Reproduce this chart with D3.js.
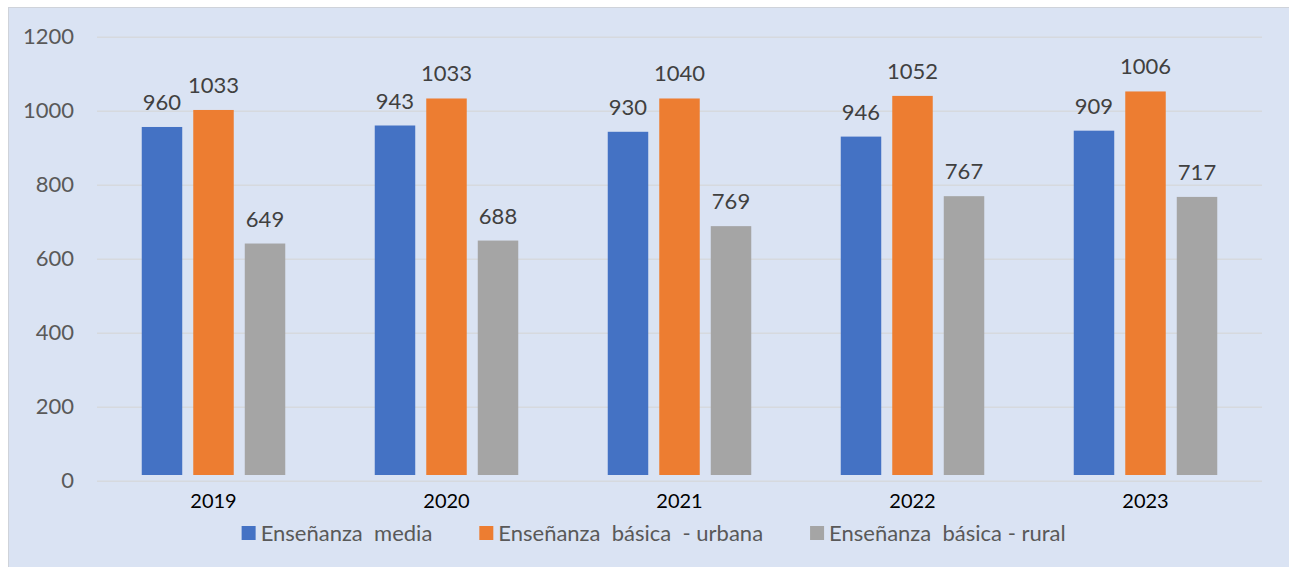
<!DOCTYPE html>
<html>
<head>
<meta charset="utf-8">
<script src="https://cdn.jsdelivr.net/npm/d3@7"></script>
<style>
  html, body { margin: 0; padding: 0; background: #fff; }
  svg { display: block; font-family: Lato, "Open Sans", sans-serif; }
</style>
</head>
<body>
<div id="graph"></div>
<script>
// categories and series
var years = ["2019", "2020", "2021", "2022", "2023"];
var seriesNames = ["Enseñanza  media", "Enseñanza  básica  - urbana", "Enseñanza  básica - rural"];
var seriesColors = ["#4472C4", "#ED7D31", "#A5A5A5"];

// bar heights as drawn
var media = [956, 960, 943, 930, 946];
var urbana = [1002, 1033, 1033, 1040, 1052];
var rural = [641, 649, 688, 769, 767];

// data labels as printed above the bars
var mediaLabels = ["960", "943", "930", "946", "909"];
var urbanaLabels = ["1033", "1033", "1040", "1052", "1006"];
var ruralLabels = ["649", "688", "769", "767", "717"];

var yTicks = [0, 200, 400, 600, 800, 1000, 1200];

var W = 1289, H = 567;
var plot = {left: 97, right: 1262, top: 36.7, bottom: 480.7};

var svg = d3.select("#graph").append("svg")
    .attr("width", W)
    .attr("height", H);

// chart area background
svg.append("rect")
    .attr("x", 8.5).attr("y", 7.5)
    .attr("width", W).attr("height", H)
    .attr("fill", "#DAE3F3")
    .attr("stroke", "#cfd3da");

var x0 = d3.scaleBand().domain(years).range([plot.left, plot.right]).padding(0);
var x1 = d3.scaleBand().domain(d3.range(3)).range([-71.75, 71.75]).paddingInner(0.214).paddingOuter(0);
var y = d3.scaleLinear().domain([0, 1200]).range([plot.bottom, plot.top]);

// y axis with gridlines
var yAxis = svg.append("g")
    .attr("transform", "translate(" + plot.left + ",0)")
    .call(d3.axisLeft(y).tickValues(yTicks).tickFormat(d3.format("d"))
      .tickSize(-(plot.right - plot.left)).tickPadding(23));
yAxis.select(".domain").remove();
yAxis.selectAll("line").attr("stroke", "#d6d9de").attr("stroke-width", 1.5);
yAxis.selectAll("text")
    .attr("fill", "#595959")
    .style("font-size", "22px")
    .style("font-family", "Lato, sans-serif");

// x axis labels
var xAxis = svg.append("g")
    .attr("transform", "translate(0," + plot.bottom + ")")
    .call(d3.axisBottom(x0).tickSize(0).tickPadding(13));
xAxis.select(".domain").remove();
xAxis.selectAll("text")
    .attr("fill", "#000")
    .style("font-size", "20px")
    .style("font-family", "Lato, sans-serif");

var series = [media, urbana, rural];
var labels = [mediaLabels, urbanaLabels, ruralLabels];
var barGap = 5.7; // bars stop short of the zero line in the original

series.forEach(function(vals, s) {
  var g = svg.append("g");
  g.selectAll("rect")
    .data(vals)
    .enter().append("rect")
      .attr("x", function(d, i) { return x0(years[i]) + x0.bandwidth() / 2 + x1(s); })
      .attr("width", x1.bandwidth())
      .attr("y", function(d) { return y(d); })
      .attr("height", function(d) { return y(0) - barGap - y(d); })
      .attr("fill", seriesColors[s]);

  g.selectAll("text")
    .data(vals)
    .enter().append("text")
      .attr("x", function(d, i) { return x0(years[i]) + x0.bandwidth() / 2 + x1(s) + x1.bandwidth() / 2; })
      .attr("y", function(d) { return y(d) - 17; })
      .attr("text-anchor", "middle")
      .attr("fill", "#404040")
      .style("font-size", "22px")
      .text(function(d, i) { return labels[s][i]; });
});

// legend
var legend = svg.append("g").attr("transform", "translate(0,541)");
var items = legend.selectAll("g")
    .data(seriesNames)
    .enter().append("g");
items.append("rect")
    .attr("x", 0).attr("y", -15)
    .attr("width", 14).attr("height", 14)
    .attr("fill", function(d, i) { return seriesColors[i]; });
items.append("text")
    .attr("x", 19)
    .attr("fill", "#595959")
    .style("font-size", "22px")
    .style("white-space", "pre")
    .text(function(d) { return d; });

var widths = [];
items.select("text").each(function() { widths.push(19 + this.getComputedTextLength()); });
var gap = 47;
var total = d3.sum(widths) + gap * (widths.length - 1);
var cx = 240 + 1067.3;
var start = cx / 2 - total / 2;
items.attr("transform", function(d, i) {
  var off = start + d3.sum(widths.slice(0, i)) + gap * i;
  return "translate(" + off + ",0)";
});
</script>
</body>
</html>
